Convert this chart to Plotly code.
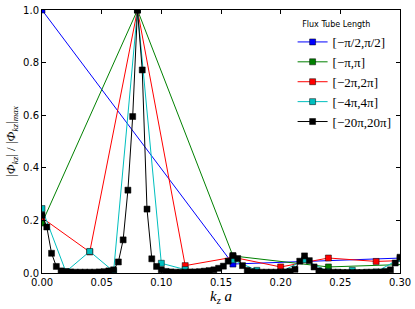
import numpy as np
import plotly.graph_objects as go

# ---- data ----
k_blue = [0.0, 0.16, 0.32]
v_blue = [1.0, 0.034, 0.06]

k_green = [0.0, 0.08, 0.16, 0.24, 0.32]
v_green = [0.19, 1.0, 0.065, 0.023, 0.035]

k_red = [0.0, 0.04, 0.08, 0.12, 0.16, 0.20, 0.24, 0.28, 0.32]
v_red = [0.21, 0.08, 1.0, 0.028, 0.06, 0.023, 0.057, 0.044, 0.05]

k_cyan = [0.00, 0.02, 0.04, 0.06, 0.08, 0.10, 0.12, 0.14, 0.16, 0.18,
          0.20, 0.22, 0.24, 0.26, 0.28, 0.30]
v_cyan = [0.245, 0.005, 0.082, 0.006, 1.0, 0.037, 0.013, 0.005, 0.05, 0.01,
          0.004, 0.05, 0.005, 0.01, 0.004, 0.055]

k_black = [round(0.004 * i, 3) for i in range(76)]
v_black = [0.22, 0.175, 0.075, 0.025, 0.008, 0.005, 0.004, 0.003, 0.003, 0.003,
           0.003, 0.003, 0.004, 0.005, 0.008, 0.012, 0.042, 0.126, 0.315, 0.595,
           1.0, 0.772, 0.243, 0.054, 0.025, 0.012, 0.006, 0.004, 0.003, 0.003,
           0.003, 0.004, 0.004, 0.005, 0.007, 0.009, 0.012, 0.018, 0.026, 0.045,
           0.066, 0.055, 0.028, 0.010, 0.005, 0.003, 0.003, 0.003, 0.003, 0.003,
           0.003, 0.004, 0.006, 0.014, 0.045, 0.065, 0.047, 0.023, 0.008, 0.004,
           0.003, 0.003, 0.003, 0.002, 0.002, 0.002, 0.002, 0.002, 0.003, 0.003,
           0.003, 0.004, 0.006, 0.012, 0.038, 0.06]

labels = ["[−π/2,π/2]", "[−π,π]", "[−2π,2π]", "[−4π,4π]", "[−20π,20π]"]
colors = ["#0000ff", "#008000", "#ff0000", "#00bfbf", "#000000"]

x_ticks = [0.0, 0.05, 0.10, 0.15, 0.20, 0.25, 0.30]
y_ticks = [0.0, 0.2, 0.4, 0.6, 0.8, 1.0]

series = [(k_blue, v_blue), (k_green, v_green), (k_red, v_red),
          (k_cyan, v_cyan), (k_black, v_black)]

fig = go.Figure()
for (kx, vy), lab, col in zip(series, labels, colors):
    fig.add_trace(go.Scatter(
        x=kx, y=vy, mode="lines+markers", name=lab,
        line=dict(color=col, width=1),
        marker=dict(symbol="square", size=6, color=col,
                    line=dict(color="black", width=0.5)),
    ))

axis_common = dict(
    showgrid=False, zeroline=False, showline=True, linecolor="black",
    linewidth=1, mirror="ticks", ticks="inside", ticklen=4,
    tickcolor="black", tickfont=dict(family="DejaVu Sans", size=10, color="black"),
    automargin=False,
)
fig.update_xaxes(range=[0, 0.3], tickvals=x_ticks,
                 ticktext=[f"{t:.2f}" for t in x_ticks],
                 title=dict(text="<i>k<sub>z</sub> a</i>",
                            font=dict(family="Liberation Serif", size=15, color="black"),
                            standoff=2),
                 **axis_common)
fig.update_yaxes(range=[0, 1.0], tickvals=y_ticks,
                 ticktext=[f"{t:.1f}" for t in y_ticks],
                 title=dict(text="|<i>Φ<sub>kz</sub></i>| / |<i>Φ<sub>kz</sub></i>|<sub><i>max</i></sub>",
                            font=dict(family="Liberation Serif", size=13, color="black"),
                            standoff=4),
                 **axis_common)

fig.update_layout(
    width=415, height=309,
    margin=dict(l=42, r=15, t=10, b=36),
    paper_bgcolor="white", plot_bgcolor="white",
    showlegend=True,
    legend=dict(
        x=0.70, y=0.975, xanchor="left", yanchor="top",
        bgcolor="rgba(0,0,0,0)", borderwidth=0,
        font=dict(family="Liberation Serif", size=13, color="black"),
        title=dict(text="   Flux Tube Length", side="top",
                   font=dict(family="DejaVu Sans", size=8, color="black")),
    ),
)

fig.write_html("out.html",
               config={"displayModeBar": False},
               post_script="document.body.style.margin='0';document.body.style.padding='0';")
